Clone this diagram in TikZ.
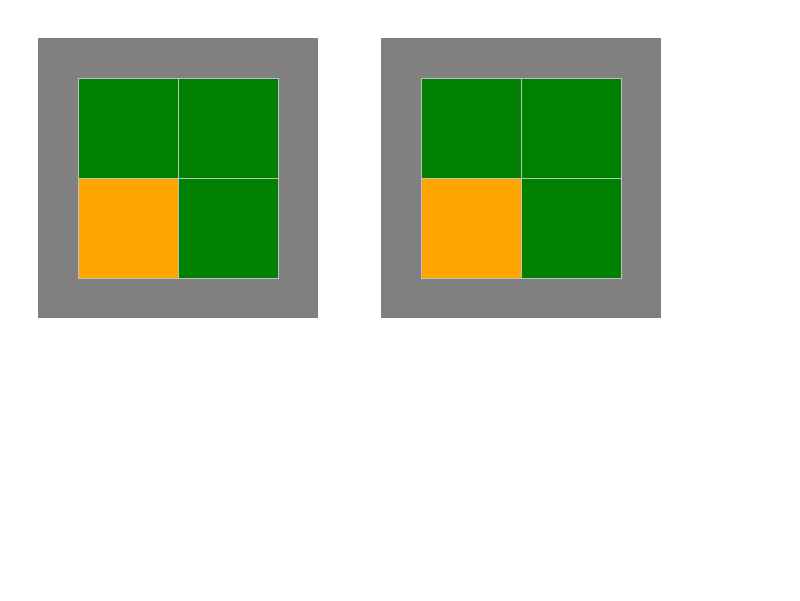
\documentclass[tikz,border=0pt]{standalone}
\usepackage[dvipsnames]{xcolor}
\definecolor{framegray}{HTML}{808080}
\definecolor{cellgreen}{HTML}{008000}
\definecolor{cellorange}{HTML}{FFA500}
\definecolor{cellline}{HTML}{C0C0C0}

\begin{document}
\begin{tikzpicture}[x=1pt,y=-1pt,node distance=100pt,
    frame/.style={rectangle,fill=framegray,inner sep=0pt,minimum size=280pt},
    cell/.style={rectangle,draw=cellline,line width=1pt,inner sep=0pt,minimum size=100pt}]

    \useasboundingbox[fill=white] (0,0) rectangle (800,600);

    \node[frame] (f1) at (178,178) {};
    \node[cell, fill=cellgreen] (a1) at (128,128) {};
    \node[cell, fill=cellgreen] (b1) [right of=a1] {};
    \node[cell, fill=cellorange] (c1) [below of=a1] {};
    \node[cell, fill=cellgreen] (d1) [right of=c1] {};

    \node[frame] (f2) at (521,178) {};
    \node[cell, fill=cellgreen] (a2) at (471,128) {};
    \node[cell, fill=cellgreen] (b2) [right of=a2] {};
    \node[cell, fill=cellorange] (c2) [below of=a2] {};
    \node[cell, fill=cellgreen] (d2) [right of=c2] {};
\end{tikzpicture}
\end{document}
